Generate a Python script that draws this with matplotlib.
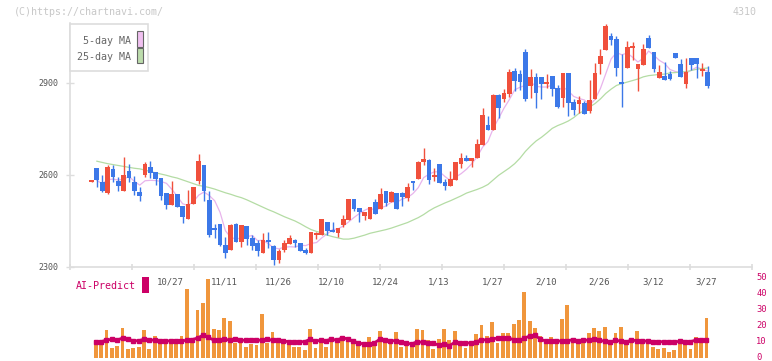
import numpy as np
import pandas as pd
import matplotlib
matplotlib.use("Agg")
import matplotlib.pyplot as plt
from matplotlib.patches import Rectangle
from matplotlib.transforms import blended_transform_factory, ScaledTranslation

plt.rcParams['font.family'] = 'DejaVu Sans Mono'

# daily candles (yen)
opens = [2578, 2623, 2577, 2541, 2620, 2580, 2548, 2613, 2577, 2545,
         2600, 2626, 2610, 2590, 2541, 2502, 2538, 2499, 2456, 2505,
         2580, 2633, 2518, 2427, 2440, 2372, 2355, 2440, 2382, 2434,
         2395, 2378, 2346, 2388, 2368, 2323, 2355, 2375, 2388, 2378,
         2355, 2346, 2404, 2404, 2447, 2421, 2411, 2437, 2453, 2522,
         2492, 2466, 2456, 2512, 2489, 2548, 2512, 2541, 2541, 2525,
         2577, 2587, 2642, 2649, 2594, 2636, 2577, 2564, 2584, 2636,
         2655, 2646, 2655, 2698, 2763, 2747, 2861, 2848, 2864, 2939,
         2929, 3001, 2890, 2920, 2920, 2897, 2923, 2884, 2851, 2933,
         2838, 2832, 2835, 2809, 2848, 2962, 3008, 3053, 3044, 2903,
         2949, 3014, 2946, 2959, 3047, 3001, 2916, 2923, 2929, 2998,
         2962, 2897, 2982, 2982, 2939, 2936]
highs = [2582, 2623, 2600, 2631, 2633, 2594, 2659, 2636, 2597, 2561,
         2642, 2646, 2610, 2590, 2541, 2580, 2538, 2499, 2551, 2561,
         2668, 2633, 2548, 2440, 2440, 2398, 2440, 2443, 2437, 2434,
         2404, 2388, 2411, 2414, 2372, 2359, 2388, 2404, 2391, 2378,
         2362, 2414, 2414, 2456, 2447, 2447, 2426, 2470, 2522, 2522,
         2492, 2479, 2496, 2522, 2558, 2548, 2548, 2541, 2545, 2574,
         2577, 2646, 2688, 2652, 2623, 2636, 2587, 2613, 2642, 2672,
         2665, 2655, 2717, 2818, 2792, 2864, 2864, 2880, 2946, 2949,
         2942, 3011, 2946, 2933, 2920, 2929, 2923, 2893, 2933, 2933,
         2848, 2858, 2841, 2910, 2965, 3011, 3092, 3063, 3053, 2995,
         3037, 3034, 2962, 3027, 3057, 3001, 2959, 2968, 2939, 2998,
         2978, 2982, 2982, 2982, 2965, 2955]
lows = [2576, 2562, 2546, 2538, 2577, 2548, 2548, 2577, 2535, 2515,
        2594, 2590, 2567, 2518, 2489, 2502, 2496, 2443, 2456, 2505,
        2571, 2515, 2398, 2395, 2368, 2329, 2355, 2382, 2365, 2372,
        2355, 2336, 2346, 2362, 2306, 2313, 2349, 2375, 2365, 2352,
        2342, 2346, 2391, 2404, 2404, 2414, 2398, 2430, 2453, 2483,
        2447, 2453, 2456, 2473, 2489, 2499, 2512, 2489, 2499, 2515,
        2551, 2587, 2633, 2571, 2580, 2574, 2551, 2564, 2584, 2623,
        2646, 2626, 2655, 2698, 2747, 2747, 2786, 2838, 2854, 2874,
        2877, 2841, 2851, 2819, 2848, 2884, 2858, 2819, 2822, 2792,
        2796, 2802, 2799, 2802, 2848, 2929, 3008, 3024, 2923, 2822,
        2949, 2975, 2874, 2959, 3014, 2936, 2916, 2910, 2910, 2982,
        2920, 2884, 2942, 2916, 2923, 2884]
closes = [2580, 2585, 2548, 2626, 2594, 2565, 2600, 2590, 2548, 2532,
          2636, 2607, 2587, 2532, 2502, 2538, 2496, 2463, 2505, 2561,
          2646, 2548, 2404, 2421, 2372, 2346, 2437, 2382, 2437, 2391,
          2368, 2352, 2388, 2382, 2323, 2352, 2378, 2395, 2378, 2352,
          2346, 2414, 2408, 2456, 2417, 2414, 2426, 2456, 2522, 2489,
          2479, 2479, 2496, 2473, 2538, 2509, 2545, 2489, 2528, 2561,
          2574, 2642, 2652, 2584, 2600, 2574, 2564, 2587, 2642, 2655,
          2646, 2655, 2701, 2796, 2747, 2861, 2818, 2867, 2936, 2907,
          2903, 2848, 2920, 2867, 2897, 2903, 2880, 2822, 2933, 2835,
          2812, 2845, 2799, 2845, 2933, 2988, 3086, 3040, 2949, 2897,
          3017, 3017, 2962, 3011, 3014, 2946, 2936, 2910, 2913, 2982,
          2920, 2936, 2959, 2962, 2946, 2890]

# 25-day moving average as drawn (first day has none)
ma25 = [np.nan, 2645, 2641, 2637, 2634, 2631, 2628, 2625, 2622, 2620,
        2616, 2611, 2607, 2603, 2599, 2594, 2590, 2584, 2578, 2572,
        2566, 2563, 2559, 2554, 2548, 2542, 2537, 2531, 2526, 2519,
        2511, 2503, 2495, 2487, 2480, 2472, 2464, 2457, 2450, 2441,
        2431, 2422, 2416, 2411, 2404, 2399, 2395, 2391, 2391, 2394,
        2399, 2404, 2410, 2414, 2418, 2422, 2427, 2433, 2439, 2445,
        2453, 2461, 2471, 2483, 2493, 2501, 2509, 2516, 2524, 2532,
        2541, 2547, 2553, 2560, 2569, 2584, 2599, 2611, 2623, 2637,
        2655, 2677, 2695, 2711, 2723, 2737, 2752, 2761, 2768, 2776,
        2787, 2801, 2810, 2822, 2833, 2848, 2866, 2880, 2892, 2898,
        2903, 2908, 2913, 2920, 2924, 2926, 2928, 2929, 2933, 2934,
        2936, 2937, 2941, 2945, 2947, 2949]

# AI-Predict panel, one value per day from the 2nd candle on
ai_bars = [11.2, 9.2, 17.5, 6.2, 7.5, 18.8, 5.6, 6.2, 6.9, 17.5,
           5.6, 13.8, 10.0, 11.9, 10.0, 10.0, 13.8, 43.1, 11.2, 30.0,
           34.4, 49.4, 18.1, 17.5, 25.0, 23.1, 9.4, 11.9, 6.9, 8.8,
           8.1, 27.5, 9.4, 16.2, 11.9, 8.8, 8.8, 6.9, 6.9, 5.0,
           18.1, 6.2, 11.2, 6.9, 10.0, 9.4, 13.8, 11.2, 11.2, 8.1,
           8.1, 13.1, 8.1, 16.9, 10.0, 8.8, 16.2, 6.9, 7.5, 10.0,
           18.1, 17.5, 11.2, 5.6, 11.9, 18.1, 11.2, 16.9, 10.6, 6.2,
           8.1, 15.0, 20.6, 13.8, 22.5, 9.4, 15.6, 15.6, 21.2, 23.8,
           41.2, 23.1, 18.8, 13.8, 8.8, 13.1, 11.9, 24.4, 33.1, 11.2,
           10.0, 9.4, 15.6, 18.8, 16.9, 19.4, 10.0, 15.6, 19.4, 10.0,
           10.0, 16.9, 10.6, 10.0, 6.9, 5.6, 6.2, 3.8, 5.0, 10.6,
           10.6, 5.6, 13.1, 10.6, 25.0]
ai_line = [10.0, 10.2, 11.2, 11.7, 11.2, 12.5, 11.7, 10.8, 10.8, 11.7,
           11.2, 11.2, 10.6, 10.8, 10.6, 10.8, 10.8, 11.0, 11.5, 12.5,
           14.2, 12.9, 11.2, 11.0, 11.7, 11.2, 12.1, 11.2, 11.0, 11.5,
           11.0, 11.2, 11.9, 11.0, 11.0, 10.6, 10.2, 9.8, 10.2, 10.2,
           11.7, 10.4, 11.2, 10.8, 11.9, 11.0, 12.7, 11.9, 10.6, 9.4,
           8.8, 8.8, 9.4, 11.7, 11.0, 10.8, 10.8, 9.8, 9.2, 8.8,
           10.2, 9.8, 9.4, 9.2, 8.1, 8.8, 7.7, 9.8, 9.4, 9.4,
           9.4, 10.0, 11.5, 11.2, 12.1, 12.3, 12.3, 12.5, 11.5, 11.0,
           12.3, 13.8, 14.2, 11.7, 10.6, 10.6, 10.6, 10.6, 10.6, 11.5,
           10.8, 11.0, 11.2, 11.7, 11.2, 10.4, 9.8, 11.0, 10.6, 10.0,
           11.2, 10.8, 10.6, 10.6, 10.2, 10.2, 10.2, 9.8, 9.8, 10.6,
           10.0, 10.2, 11.2, 11.0, 11.0]

date_labels = ['10/27', '11/11', '11/26', '12/10', '12/24', '1/13',
               '1/27', '2/10', '2/26', '3/12', '3/27']
date_days = [15, 25, 35, 45, 55, 65, 75, 85, 95, 105, 115]

W, H = 772, 361
RED, BLUE = '#f0503c', '#3c78e8'
PINK, GREEN = '#e8b4ec', '#b4dca4'
CRIMSON = '#cc0066'
GRID = '#dddddd'

# pixel layout of the original
x_first, step = 91.5, 5.357
left_px, right_px = 70, 752
xlim = ((left_px - x_first) / step, (right_px - x_first) / step)
ylo, yhi = 2300, 3095
base_px = 267
top_px = base_px - (yhi - ylo) / 300 * 92

fig = plt.figure(figsize=(W / 100, H / 100), dpi=100)
ax = fig.add_axes([left_px / W, 1 - base_px / H, (right_px - left_px) / W,
                   (base_px - top_px) / H])

days = np.arange(len(closes))
o = np.array(opens, float)
c = np.array(closes, float)
up = c >= o
cols = np.where(up, RED, BLUE)

ma5 = pd.Series(closes, dtype=float).rolling(5, min_periods=1).mean().values
ma5[0] = np.nan
ax.plot(days, ma5, color=PINK, lw=0.9, zorder=1)
ax.plot(days, ma25, color=GREEN, lw=0.9, zorder=1)

ax.vlines(days, lows, highs, colors=cols, lw=1.0, zorder=2)
body_h = np.maximum(np.abs(c - o), 6)
ax.bar(days, body_h, bottom=np.minimum(o, c), width=0.88, color=cols,
       zorder=3, linewidth=0)

ax.set_xlim(*xlim)
ax.set_ylim(ylo, yhi)
for s in ['top', 'right']:
    ax.spines[s].set_visible(False)
for s in ['left', 'bottom']:
    ax.spines[s].set_color(GRID)
    ax.spines[s].set_linewidth(1.2)
tick_px = np.arange(left_px, right_px + 1, 62)
ax.set_xticks((tick_px - x_first) / step)
ax.set_xticklabels([])
ax.tick_params(axis='x', direction='inout', length=5, width=1.2, color=GRID)
ax.set_yticks([2300, 2600, 2900])
ax.tick_params(axis='y', direction='inout', length=6, width=1.0, color=GRID,
               labelsize=6, labelcolor='#555555', pad=5)

# date labels under the axis
tr = blended_transform_factory(ax.transData, fig.transFigure)
for d, lab in zip(date_days, date_labels):
    fig.text(d - 0.2, 1 - 282 / H, lab, transform=tr, ha='center',
             va='center', fontsize=6.5, color='#555555')

# legend box
fig.patches.append(Rectangle((70 / W, 1 - 71 / H), 78 / W, 47 / H,
                             transform=fig.transFigure, facecolor='white',
                             edgecolor=GRID, lw=1.2, zorder=5))
fig.patches.append(Rectangle((137 / W, 1 - 47 / H), 6 / W, 16 / H,
                             transform=fig.transFigure, facecolor='#f0c0f0',
                             edgecolor='#666666', lw=0.8, zorder=6))
fig.patches.append(Rectangle((137 / W, 1 - 63 / H), 6 / W, 15 / H,
                             transform=fig.transFigure, facecolor='#bcdcac',
                             edgecolor='#666666', lw=0.8, zorder=6))
fig.text(131 / W, 1 - 41.5 / H, '5-day MA', ha='right', va='center',
         fontsize=7.2, color='#666666', zorder=7)
fig.text(131 / W, 1 - 57 / H, '25-day MA', ha='right', va='center',
         fontsize=7.2, color='#666666', zorder=7)

fig.text(14 / W, 1 - 12 / H, '(C)https://chartnavi.com/', ha='left',
         va='center', fontsize=7.2, color='#c8c8c8')
fig.text(757 / W, 1 - 12 / H, '4310', ha='right', va='center',
         fontsize=7.2, color='#c8c8c8')

# AI-Predict panel
ax2 = fig.add_axes([left_px / W, 1 - 358 / H, (right_px - left_px) / W,
                    88 / H])
bar_days = np.arange(1, len(closes))
ax2.bar(bar_days - 0.2, ai_bars, width=0.7, color='#f0963c', linewidth=0)
ax2.plot(bar_days - 0.2, ai_line, color=CRIMSON, lw=2.0, marker='s', ms=2.5)
ax2.set_xlim(*xlim)
ax2.set_ylim(0, 55)
for s in ax2.spines.values():
    s.set_visible(False)
ax2.set_xticks([])
ax2.yaxis.tick_right()
ax2.set_yticks([0, 10, 20, 30, 40, 50])
ax2.tick_params(axis='y', length=0, labelsize=6.3, labelcolor=CRIMSON, pad=3)
lift = ScaledTranslation(0, 1.5 / 100, fig.dpi_scale_trans)
for lab in ax2.get_yticklabels():
    lab.set_transform(lab.get_transform() + lift)

fig.text(76 / W, 1 - 286 / H, 'AI-Predict', ha='left', va='center',
         fontsize=7.2, color=CRIMSON)
fig.patches.append(Rectangle((142 / W, 1 - 293 / H), 7 / W, 16 / H,
                             transform=fig.transFigure, facecolor=CRIMSON,
                             edgecolor='none'))

fig.savefig('out.png', dpi=100)
